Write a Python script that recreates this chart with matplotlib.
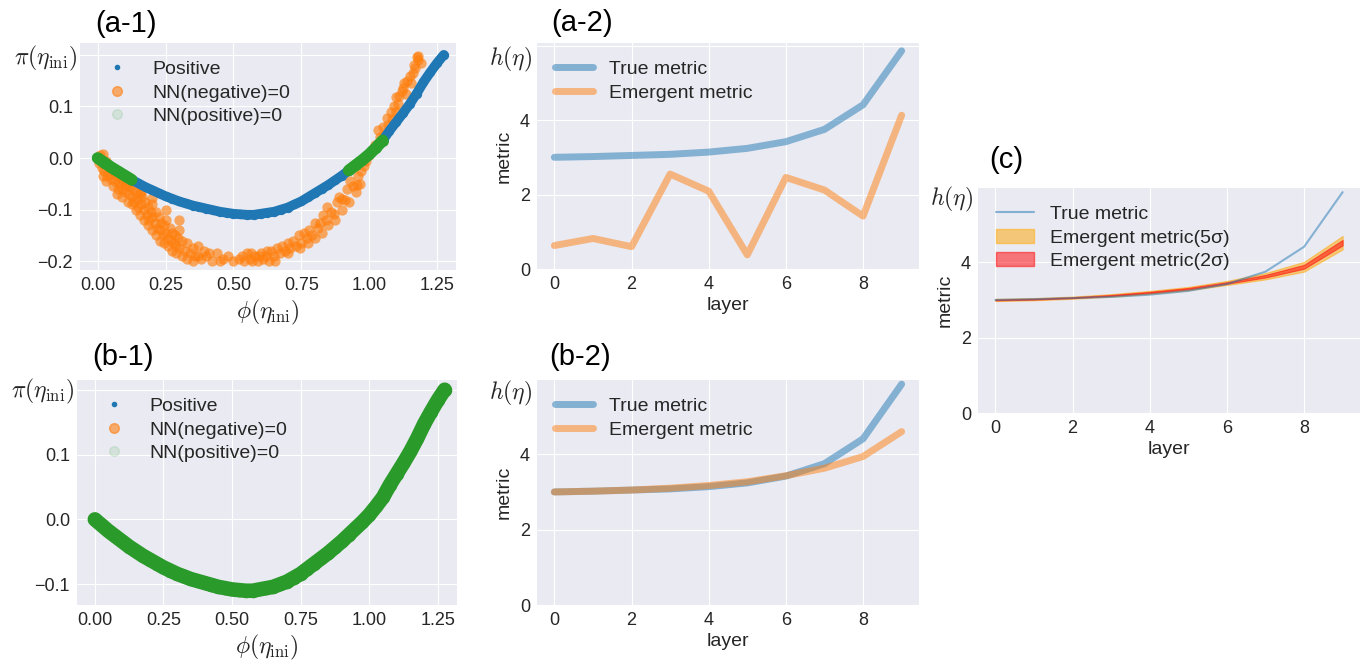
import numpy as np
import matplotlib.pyplot as plt
import seaborn as sns
from matplotlib.lines import Line2D
from matplotlib.patches import Patch

sns.set_style("darkgrid")
plt.rcParams['font.family'] = ['Liberation Sans', 'DejaVu Sans']
plt.rcParams['mathtext.fontset'] = 'cm'

# positive data curve, pi(eta_ini) vs phi(eta_ini)
phi_pos = [0.000, 0.025, 0.050, 0.075, 0.100, 0.125, 0.150, 0.175, 0.200, 0.225,
           0.250, 0.275, 0.300, 0.325, 0.350, 0.375, 0.400, 0.425, 0.450, 0.475,
           0.500, 0.525, 0.550, 0.575, 0.600, 0.625, 0.650, 0.675, 0.700, 0.725,
           0.750, 0.775, 0.800, 0.825, 0.850, 0.875, 0.900, 0.925, 0.950, 0.975,
           1.000, 1.025, 1.050, 1.075, 1.100, 1.125, 1.150, 1.175, 1.200, 1.225,
           1.250, 1.275]
pi_pos = [0.000, -0.009, -0.018, -0.026, -0.034, -0.042, -0.049, -0.056, -0.062, -0.068,
          -0.074, -0.079, -0.084, -0.088, -0.092, -0.095, -0.098, -0.101, -0.104, -0.106,
          -0.108, -0.109, -0.110, -0.110, -0.108, -0.106, -0.104, -0.100, -0.096, -0.090,
          -0.084, -0.076, -0.068, -0.060, -0.052, -0.043, -0.034, -0.024, -0.014, -0.004,
          0.007, 0.020, 0.034, 0.053, 0.070, 0.087, 0.105, 0.125, 0.147, 0.166,
          0.184, 0.200]

# points where NN(negative)=0 in (a-1)
phi_neg = [0.01, 0.02, 0.005, 0.015, 0.03, 0.025, 0.04, 0.045, 0.05, 0.035,
           0.06, 0.065, 0.07, 0.08, 0.085, 0.09, 0.095, 0.1, 0.105, 0.075,
           0.11, 0.115, 0.12, 0.125, 0.13, 0.135, 0.14, 0.145, 0.15, 0.155,
           0.16, 0.165, 0.17, 0.175, 0.18, 0.185, 0.19, 0.195, 0.2, 0.2,
           0.21, 0.215, 0.22, 0.225, 0.23, 0.235, 0.24, 0.245, 0.25, 0.25,
           0.26, 0.265, 0.27, 0.275, 0.28, 0.285, 0.29, 0.295, 0.3, 0.3,
           0.31, 0.32, 0.33, 0.34, 0.35, 0.36, 0.37, 0.38, 0.39, 0.4,
           0.42, 0.44, 0.46, 0.48, 0.5, 0.52, 0.54, 0.55, 0.56, 0.57,
           0.58, 0.59, 0.6, 0.61, 0.62, 0.63, 0.64, 0.65, 0.66, 0.67,
           0.68, 0.69, 0.7, 0.71, 0.72, 0.73, 0.74, 0.75, 0.76, 0.77,
           0.78, 0.79, 0.8, 0.81, 0.82, 0.83, 0.84, 0.845, 0.86, 0.87,
           0.88, 0.89, 0.9, 0.91, 0.92, 0.93, 0.94, 0.955, 0.96, 0.97,
           0.98, 0.99, 1.0, 1.01, 1.02, 1.034, 1.04, 1.05, 1.065, 1.07,
           1.08, 1.09, 1.1, 1.1, 1.11, 1.12, 1.126, 1.13, 1.14, 1.15,
           1.16, 1.165, 1.17, 1.18, 1.18, 1.19,
           0.02, 0.03, 0.055, 0.07, 0.09, 0.11, 0.125, 0.14, 0.155, 0.17,
           0.185, 0.2, 0.215, 0.23, 0.245, 0.26, 0.275, 0.29, 0.31, 0.33,
           0.35, 0.37, 0.41, 0.45, 0.53, 0.565, 0.595, 0.625, 0.655, 0.7,
           0.745, 0.775, 0.8, 0.825, 0.85, 0.875, 0.9, 0.925, 0.95, 0.965,
           1.055, 1.085, 1.105, 1.135, 1.155, 1.175, 0.16, 0.2, 0.25, 0.3]
pi_neg = [0.005, 0.008, -0.01, -0.02, -0.005, -0.025, -0.015, -0.03, -0.04, -0.035,
          -0.025, -0.045, -0.035, -0.05, -0.04, -0.06, -0.045, -0.065, -0.055, -0.06,
          -0.05, -0.07, -0.055, -0.075, -0.06, -0.085, -0.065, -0.08, -0.095, -0.07,
          -0.09, -0.075, -0.1, -0.085, -0.11, -0.095, -0.12, -0.105, -0.09, -0.115,
          -0.125, -0.105, -0.135, -0.115, -0.14, -0.125, -0.15, -0.13, -0.145, -0.12,
          -0.155, -0.135, -0.16, -0.145, -0.165, -0.15, -0.17, -0.155, -0.14, -0.175,
          -0.16, -0.18, -0.165, -0.185, -0.175, -0.19, -0.17, -0.195, -0.18, -0.19,
          -0.2, -0.185, -0.195, -0.19, -0.2, -0.195, -0.2, -0.185, -0.195, -0.2,
          -0.19, -0.2, -0.185, -0.195, -0.19, -0.2, -0.18, -0.19, -0.175, -0.185,
          -0.17, -0.18, -0.165, -0.175, -0.16, -0.17, -0.15, -0.165, -0.145, -0.155,
          -0.14, -0.15, -0.125, -0.135, -0.125, -0.11, -0.12, -0.095, -0.105, -0.108,
          -0.085, -0.075, -0.08, -0.082, -0.06, -0.045, -0.055, -0.052, -0.035, -0.025,
          -0.015, -0.005, 0.005, 0.015, 0.025, 0.054, 0.04, 0.06, 0.077, 0.065,
          0.09, 0.1, 0.09, 0.118, 0.12, 0.13, 0.135, 0.145, 0.15, 0.16,
          0.165, 0.18, 0.175, 0.19, 0.197, 0.185,
          -0.035, -0.045, -0.055, -0.07, -0.075, -0.085, -0.09, -0.1, -0.11, -0.12,
          -0.13, -0.14, -0.15, -0.16, -0.165, -0.17, -0.18, -0.185, -0.19, -0.195,
          -0.2, -0.19, -0.185, -0.2, -0.19, -0.185, -0.19, -0.18, -0.2, -0.185,
          -0.175, -0.165, -0.155, -0.145, -0.13, -0.12, -0.1, -0.085, -0.065, -0.05,
          0.045, 0.075, 0.105, 0.125, 0.145, 0.195, -0.065, -0.078, -0.1, -0.12]

layers = [0, 1, 2, 3, 4, 5, 6, 7, 8, 9]
true_metric = [3.00, 3.02, 3.05, 3.08, 3.14, 3.24, 3.42, 3.75, 4.41, 5.86]
emergent_a = [0.63, 0.82, 0.60, 2.55, 2.09, 0.38, 2.46, 2.12, 1.42, 4.13]
emergent_b = [3.00, 3.02, 3.05, 3.10, 3.17, 3.27, 3.43, 3.63, 3.94, 4.60]
emergent_c = [3.00, 3.02, 3.06, 3.12, 3.20, 3.30, 3.45, 3.63, 3.88, 4.52]
sigma_c = [0.006, 0.006, 0.006, 0.007, 0.008, 0.009, 0.011, 0.017, 0.026, 0.036]

phi_pos = np.array(phi_pos)
pi_pos = np.array(pi_pos)
# misclassified positives in (a-1): both ends of the curve near the boundary
wrong_lo = phi_pos <= 0.125
wrong_hi = (phi_pos >= 0.925) & (phi_pos <= 1.05)

W, H = 1370, 665
fig = plt.figure(figsize=(W / 100, H / 100), dpi=100)


def add_ax(left, top, right, bottom):
    ax = fig.add_axes([left / W, 1 - bottom / H, (right - left) / W, (bottom - top) / H])
    for s in ax.spines.values():
        s.set_visible(False)
    ax.tick_params(labelsize=13, pad=5, length=0)
    return ax


scatter_handles = [
    Line2D([], [], ls='', marker='o', ms=3, color='C0', label='Positive'),
    Line2D([], [], ls='', marker='o', ms=7, color='C1', alpha=0.6, label='NN(negative)=0'),
    Line2D([], [], ls='', marker='o', ms=7, color='C2', alpha=0.12, label='NN(positive)=0'),
]


def band(ax, x, y, color, width, size):
    # dense cloud of points along the curve
    ax.plot(x, y, color=color, lw=width, solid_capstyle='round', solid_joinstyle='round')
    ax.scatter(x, y, s=size, color=color, lw=0)


def phase_panel(ax, ylim, label_y):
    ax.set_xticks([0, 0.25, 0.5, 0.75, 1.0, 1.25])
    ax.set_yticks([-0.2, -0.1, 0.0, 0.1, 0.2])
    ax.set_yticklabels(['\u22120.2', '\u22120.1', '0.0', '0.1', ''])
    ax.set_xlim(-0.065, 1.32)
    ax.set_ylim(*ylim)
    ax.set_xlabel(r'$\phi(\eta_{\rm ini})$', fontsize=17, labelpad=3)
    ax.text(-0.008, label_y, r'$\pi(\eta_{\rm ini})$', transform=ax.transAxes,
            ha='right', va='center', fontsize=17)
    ax.legend(handles=scatter_handles, loc='upper left', fontsize=14,
              frameon=False, labelspacing=0.3)


def metric_panel(ax, hy, top):
    ax.set_xticks([0, 2, 4, 6, 8])
    ax.set_yticks([0, 2, 4, 6])
    ax.set_yticklabels(['0', '2', '4', ''])
    ax.set_xlim(-0.45, 9.45)
    ax.set_ylim(0, top)
    ax.set_xlabel('layer', fontsize=14, labelpad=3)
    ax.set_ylabel('metric', fontsize=14, labelpad=5)
    ax.text(-0.013, hy, r'$h(\eta)$', transform=ax.transAxes,
            ha='right', va='center', fontsize=17)


# (a-1)
ax1 = add_ax(80, 43, 456, 270)
band(ax1, phi_pos, pi_pos, 'C0', 7, 45)
ax1.scatter(phi_neg, pi_neg, s=55, color='C1', alpha=0.65, lw=0)
band(ax1, phi_pos[wrong_lo], pi_pos[wrong_lo], 'C2', 8.5, 60)
band(ax1, phi_pos[wrong_hi], pi_pos[wrong_hi], 'C2', 8.5, 60)
phase_panel(ax1, (-0.217, 0.223), 0.93)

# (b-1)
ax3 = add_ax(77, 380, 457, 605)
band(ax3, phi_pos, pi_pos, '#2a9a2a', 10.5, 95)
phase_panel(ax3, (-0.132, 0.215), 0.947)

# (a-2)
ax2 = add_ax(537, 43, 919, 269)
ax2.plot(layers, true_metric, lw=5, alpha=0.5, color='C0', label='True metric')
ax2.plot(layers, emergent_a, lw=5, alpha=0.5, color='C1', label='Emergent metric')
metric_panel(ax2, 0.925, 6.07)
ax2.legend(loc='upper left', fontsize=14, frameon=False, labelspacing=0.3)

# (b-2)
ax4 = add_ax(537, 380, 919, 605)
ax4.plot(layers, true_metric, lw=5, alpha=0.5, color='C0', label='True metric')
ax4.plot(layers, emergent_b, lw=5, alpha=0.5, color='C1', label='Emergent metric')
metric_panel(ax4, 0.942, 5.97)
ax4.legend(loc='upper left', fontsize=14, frameon=False, labelspacing=0.3)

# (c)
ax5 = add_ax(978, 188, 1360, 413)
mean = np.array(emergent_c)
sig = np.array(sigma_c)
ax5.plot(layers, true_metric, lw=1.5, alpha=0.5, color='C0')
ax5.fill_between(layers, mean - 5 * sig, mean + 5 * sig, color='orange', alpha=0.5,
                 edgecolor='orange', lw=0.8)
ax5.fill_between(layers, mean - 2 * sig, mean + 2 * sig, color='red', alpha=0.5,
                 edgecolor='red', lw=0.8)
metric_panel(ax5, 0.947, 5.97)
ax5.legend(handles=[Line2D([], [], lw=1.5, alpha=0.5, color='C0', label='True metric'),
                    Patch(color='orange', alpha=0.5, label='Emergent metric(5\u03c3)'),
                    Patch(color='red', alpha=0.5, label='Emergent metric(2\u03c3)')],
           loc='upper left', fontsize=14, frameon=False, labelspacing=0.3)

# panel tags
for x, y, tag in [(95, 24, '(a-1)'), (551, 23, '(a-2)'), (92, 357, '(b-1)'),
                  (549, 357, '(b-2)'), (989, 160, '(c)')]:
    fig.text(x / W, 1 - y / H, tag, fontsize=21, ha='left', va='center', color='black')

fig.savefig('out.png', dpi=100)
